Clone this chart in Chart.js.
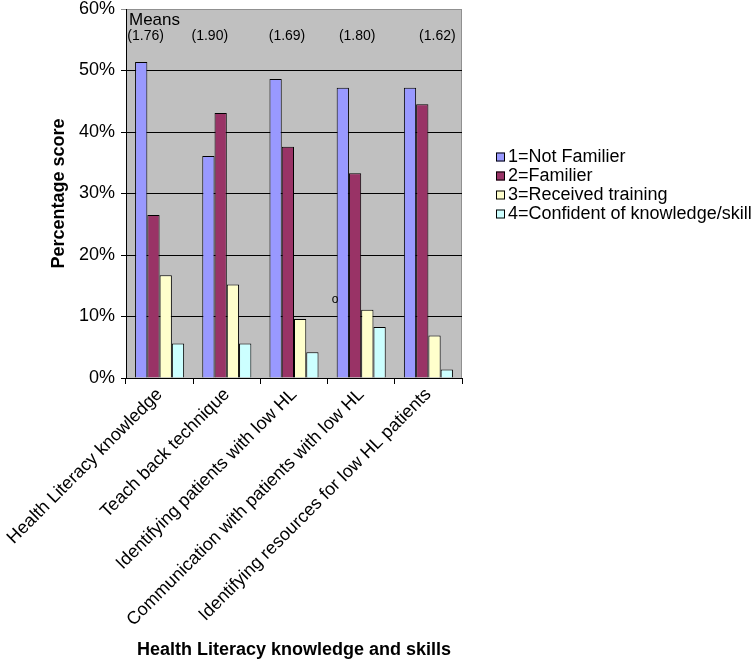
<!DOCTYPE html>
<html>
<head>
<meta charset="utf-8">
<script src="https://cdn.jsdelivr.net/npm/chart.js@4/dist/chart.umd.min.js"></script>
<style>
  html, body { margin: 0; padding: 0; background: #fff; }
  #wrap { width: 754px; height: 661px; }
</style>
</head>
<body>
<div id="wrap"><canvas id="hlChart"></canvas></div>
<script>
const skills = [
    'Health Literacy knowledge',
    'Teach back technique',
    'Identifying patients with low HL',
    'Communication with patients with low HL',
    'Identifying resources for low HL patients'
];
const notFamiliar = [51.4, 36.1, 48.6, 47.2, 47.2];
const familiar = [26.5, 43.1, 37.6, 33.3, 44.5];
const receivedTraining = [16.7, 15.2, 9.6, 11.1, 6.9];
const confident = [5.6, 5.6, 4.2, 8.3, 1.4];
const means = ['(1.76)', '(1.90)', '(1.69)', '(1.80)', '(1.62)'];
const yTicks = [0, 10, 20, 30, 40, 50, 60];

const FONT = 'Arial, "Liberation Sans", sans-serif';

// gray plot background, "Means" labels, stray mark and the legend on the right
const plotDecor = {
    id: 'plotDecor',
    beforeDraw(chart) {
        const { ctx, chartArea: a } = chart;
        ctx.save();
        ctx.fillStyle = '#c0c0c0';
        ctx.fillRect(a.left, a.top, a.right - a.left, a.bottom - a.top);
        ctx.strokeStyle = '#909090';
        ctx.lineWidth = 1;
        ctx.beginPath();
        ctx.moveTo(a.right - 0.5, a.top);
        ctx.lineTo(a.right - 0.5, a.bottom);
        ctx.stroke();
        ctx.restore();
    },
    afterDatasetsDraw(chart) {
        const { ctx, chartArea: a, scales } = chart;
        const nudge = [-14, -17, -7, -4, 9];
        ctx.save();
        ctx.fillStyle = '#000';
        ctx.textBaseline = 'middle';
        ctx.font = '17px ' + FONT;
        ctx.textAlign = 'left';
        ctx.fillText('Means', a.left + 3, a.top + 11);
        ctx.font = '14px ' + FONT;
        ctx.textAlign = 'center';
        means.forEach((m, i) => {
            ctx.fillText(m, scales.x.getPixelForValue(i) + nudge[i], a.top + 27.5);
        });
        ctx.font = '12px ' + FONT;
        ctx.fillText('o', scales.x.getPixelForValue(3) - 26, scales.y.getPixelForValue(12.8));

        // legend
        const lx = a.right + 34;
        let ly = 157;
        ctx.textAlign = 'left';
        ctx.font = '18px ' + FONT;
        chart.data.datasets.forEach(ds => {
            ctx.fillStyle = ds.backgroundColor;
            ctx.fillRect(lx, ly - 4.5, 9, 9);
            ctx.strokeStyle = '#000';
            ctx.lineWidth = 1;
            ctx.strokeRect(lx + 0.5, ly - 4, 8, 8);
            ctx.fillStyle = '#000';
            ctx.fillText(ds.label, lx + 12, ly);
            ly += 19;
        });
        ctx.restore();
    }
};

const ctx = document.getElementById('hlChart').getContext('2d');
const hlChart = new Chart(ctx, {
    type: 'bar',
    data: {
        labels: skills,
        datasets: [
            { label: '1=Not Familier', data: notFamiliar, backgroundColor: '#9999ff' },
            { label: '2=Familier', data: familiar, backgroundColor: '#993366' },
            { label: '3=Received training', data: receivedTraining, backgroundColor: '#ffffcc' },
            { label: '4=Confident of knowledge/skill', data: confident, backgroundColor: '#ccffff' }
        ]
    },
    options: {
        responsive: true,
        maintainAspectRatio: false,
        animation: false,
        devicePixelRatio: 1,
        layout: { padding: { top: 9, left: 0, right: 292, bottom: 0 } },
        datasets: {
            bar: {
                borderColor: '#000',
                borderWidth: 1,
                barPercentage: 1,
                categoryPercentage: 0.73
            }
        },
        plugins: {
            legend: { display: false },
            tooltip: { enabled: false }
        },
        scales: {
            x: {
                grid: {
                    offset: true,
                    drawOnChartArea: false,
                    color: '#000',
                    tickLength: 6
                },
                border: { color: '#000', width: 1 },
                ticks: {
                    color: '#000',
                    font: { family: FONT, size: 18 },
                    maxRotation: 45,
                    minRotation: 45,
                    padding: 0
                },
                title: {
                    display: true,
                    text: 'Health Literacy knowledge and skills',
                    color: '#000',
                    font: { family: FONT, size: 18, weight: 'bold' },
                    padding: { top: 0, bottom: 0 }
                },
                afterFit(scale) {
                    scale.height = 283;
                    scale.paddingLeft = 0;
                    scale.paddingRight = 0;
                }
            },
            y: {
                min: 0,
                max: 60,
                afterBuildTicks(scale) {
                    scale.ticks = yTicks.map(v => ({ value: v }));
                },
                grid: {
                    color: c => (c.tick && c.tick.value === 60 ? '#909090' : '#000'),
                    tickLength: 5
                },
                border: { color: '#000', width: 1 },
                ticks: {
                    color: '#000',
                    font: { family: FONT, size: 18 },
                    padding: 6,
                    callback: v => v + '%'
                },
                title: {
                    display: true,
                    text: 'Percentage score',
                    color: '#000',
                    font: { family: FONT, size: 18, weight: 'bold' },
                    padding: { top: 48, bottom: 0 }
                },
                afterFit(scale) {
                    scale.width = 126;
                    scale.paddingTop = 0;
                    scale.paddingBottom = 0;
                }
            }
        }
    },
    plugins: [plotDecor]
});
</script>
</body>
</html>
